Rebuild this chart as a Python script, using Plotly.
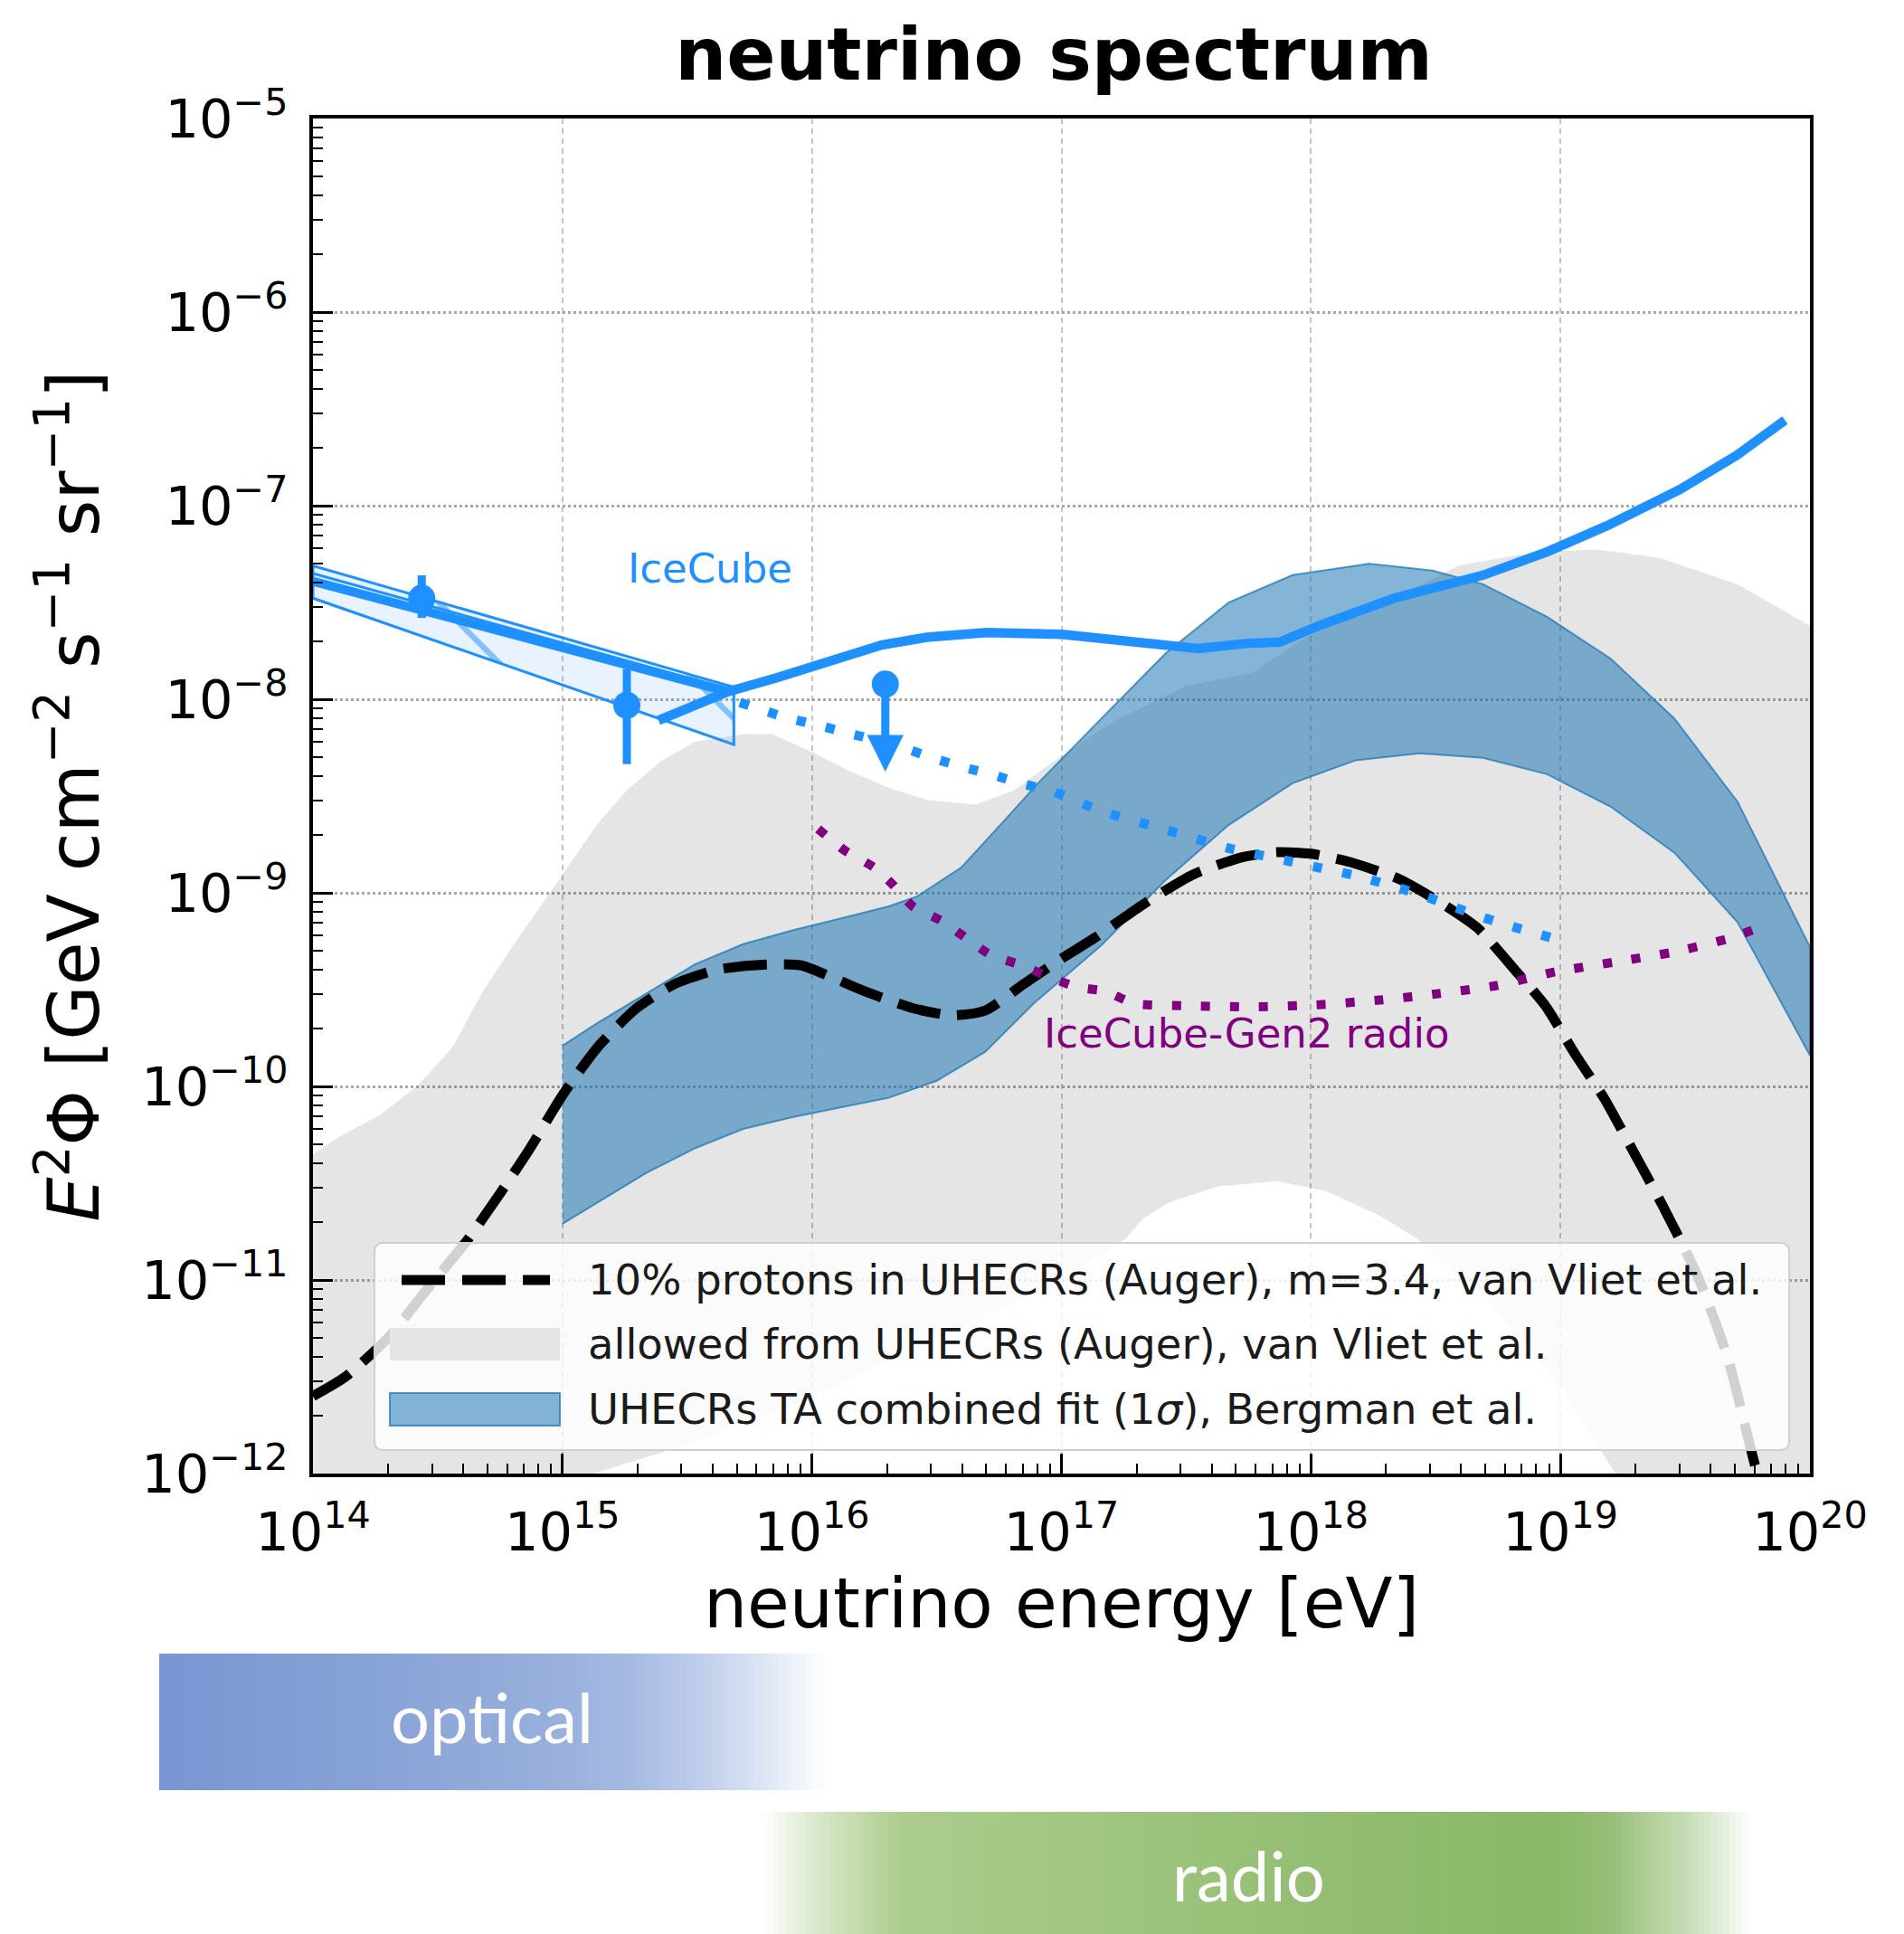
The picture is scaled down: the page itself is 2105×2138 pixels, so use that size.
import numpy as np
import plotly.graph_objects as go

# ---------------------------------------------------------------------------
# Values.
# Energies are log10(E / eV); fluxes are log10(E^2 Phi / GeV cm^-2 s^-1 sr^-1)
# ---------------------------------------------------------------------------

# 10% protons in UHECRs (Auger), m=3.4, van Vliet et al.  (black dashed)
proton_logE = [14.0, 14.13, 14.30, 14.45, 14.617, 14.753, 14.87, 15.0, 15.142, 15.297,
               15.452, 15.627, 15.82, 15.957, 16.074, 16.21, 16.404, 16.56, 16.695,
               16.85, 17.0, 17.137, 17.333, 17.53, 17.725, 17.863, 18.0, 18.157,
               18.353, 18.51, 18.667, 18.824, 18.94, 19.06, 19.176, 19.294, 19.41,
               19.55, 19.67, 19.784, 19.84]
proton_logF = [-11.60, -11.50, -11.30, -11.06, -10.797, -10.547, -10.32, -10.046, -9.796,
               -9.596, -9.47, -9.395, -9.37, -9.375, -9.433, -9.508, -9.596, -9.633,
               -9.608, -9.47, -9.34, -9.23, -9.055, -8.904, -8.816, -8.79, -8.798,
               -8.841, -8.929, -9.043, -9.181, -9.408, -9.584, -9.836, -10.063,
               -10.34, -10.617, -10.98, -11.40, -11.977, -12.2]

# allowed from UHECRs (Auger), van Vliet et al.  (grey region)
auger_upper_logE = [14.0, 14.093, 14.27, 14.42, 14.56, 14.676, 14.79, 14.91, 15.006, 15.14,
                    15.258, 15.394, 15.53, 15.724, 15.84, 15.996, 16.15, 16.307, 16.46,
                    16.656, 16.81, 16.97, 17.2, 17.5, 17.77, 17.93, 18.18, 18.44, 18.59,
                    18.9, 19.15, 19.4, 19.71, 20.0]
auger_upper_logF = [-10.35, -10.27, -10.146, -9.996, -9.796, -9.52, -9.295, -9.07, -8.895,
                    -8.645, -8.47, -8.32, -8.22, -8.18, -8.18, -8.27, -8.37, -8.457, -8.52,
                    -8.544, -8.47, -8.32, -8.12, -7.93, -7.86, -7.72, -7.53, -7.41, -7.31,
                    -7.24, -7.227, -7.27, -7.406, -7.62]
# lower edge, from high to low energy (the white dome underneath)
auger_lower_logE = [20.0, 19.6, 19.22, 19.0, 18.7, 18.55, 18.43, 18.275, 18.06, 17.863,
                    17.627, 17.43, 17.33, 17.255, 17.0, 16.5, 16.0, 15.5, 15.0, 14.0]
auger_lower_logF = [-13.0, -12.5, -12.0, -11.55, -11.1, -10.93, -10.79, -10.667, -10.54,
                    -10.49, -10.516, -10.6, -10.68, -10.79, -11.0, -11.3, -11.6, -11.85,
                    -12.05, -13.0]

# UHECRs TA combined fit (1 sigma), Bergman et al.  (blue band)
ta_upper_logE = [15.0, 15.142, 15.336, 15.53, 15.724, 15.918, 16.113, 16.307, 16.42, 16.598,
                 16.79, 16.906, 17.16, 17.416, 17.67, 17.926, 18.232, 18.487, 18.69,
                 18.946, 19.2, 19.457, 19.71, 20.0]
ta_upper_logF = [-9.79, -9.671, -9.52, -9.37, -9.265, -9.195, -9.133, -9.07, -9.02, -8.87,
                 -8.6, -8.434, -8.1, -7.765, -7.5, -7.359, -7.3, -7.335, -7.406, -7.574,
                 -7.789, -8.1, -8.53, -9.28]
ta_lower_logE = [15.0, 15.142, 15.336, 15.53, 15.724, 15.918, 16.113, 16.307, 16.5, 16.695,
                 16.89, 17.16, 17.416, 17.67, 17.926, 18.18, 18.436, 18.69, 18.946, 19.2,
                 19.457, 19.71, 20.0]
ta_lower_logF = [-10.71, -10.597, -10.447, -10.32, -10.22, -10.16, -10.109, -10.059, -9.971,
                 -9.821, -9.57, -9.271, -8.936, -8.65, -8.434, -8.315, -8.279, -8.303,
                 -8.387, -8.554, -8.793, -9.152, -9.84]

# IceCube sensitivity (solid blue)
icecube_logE = [15.385, 15.663, 15.856, 16.037, 16.279, 16.46, 16.70, 17.003, 17.184, 17.426,
                17.547, 17.74, 17.875, 18.028, 18.334, 18.69, 18.946, 19.2, 19.48, 19.71,
                19.9]
icecube_logF = [-8.109, -7.961, -7.89, -7.813, -7.72, -7.68, -7.655, -7.665, -7.688, -7.727,
                -7.738, -7.712, -7.705, -7.622, -7.478, -7.359, -7.239, -7.096, -6.916,
                -6.737, -6.558]

# IceCube astrophysical flux extrapolation (blue dotted)
icecube_ext_logE = [15.711, 15.892, 16.018, 16.133, 16.363, 16.484, 16.605, 16.72, 16.84,
                    16.962, 17.16, 17.416, 17.67, 17.926, 18.18, 18.436, 18.69, 18.97]
icecube_ext_logF = [-8.016, -8.093, -8.132, -8.171, -8.249, -8.304, -8.35, -8.389, -8.436,
                    -8.475, -8.578, -8.673, -8.769, -8.841, -8.912, -9.008, -9.128, -9.235]

# IceCube-Gen2 radio (purple dotted)
gen2_logE = [16.025, 16.13, 16.25, 16.326, 16.404, 16.52, 16.617, 16.715, 16.83, 16.948,
             17.06, 17.176, 17.294, 17.53, 17.765, 18.02, 18.275, 18.51, 18.745, 18.98,
             19.216, 19.45, 19.686, 19.843]
gen2_logF = [-8.67, -8.78, -8.87, -8.96, -9.07, -9.145, -9.233, -9.32, -9.37, -9.433, -9.486,
             -9.509, -9.572, -9.584, -9.589, -9.579, -9.554, -9.521, -9.479, -9.408, -9.358,
             -9.307, -9.232, -9.156]

# IceCube astrophysical power-law band (hatched) and best fit
ic_band_logE = [14.0, 15.687]
ic_band_upper_logF = [-7.31, -7.938]
ic_band_lower_logF = [-7.478, -8.234]
ic_inner_logF = [-7.35, -7.955]
ic_fit_logE = [14.0, 15.663]
ic_fit_logF = [-7.39, -7.961]

# IceCube data points with error bars
ic_pts_logE = [14.436, 15.258]
ic_pts_logF = [-7.478, -8.031]
ic_pts_hi_logF = [-7.36, -7.844]
ic_pts_lo_logF = [-7.58, -8.335]

# IceCube upper limit (point and arrow end)
ic_ul_logE = [16.294]
ic_ul_logF = [-7.922]
ic_ul_end_logF = [-8.374]

# axis ticks
x_tick_exp = [14, 15, 16, 17, 18, 19, 20]
y_tick_exp = [-12, -11, -10, -9, -8, -7, -6, -5]

# ---------------------------------------------------------------------------
W, H = 2105, 2138
L, R, T, B = 338, 1993, 123, 1621      # plot area in pixels


def pxx(v):
    return (v - L) / (R - L)


def pxy(v):
    return (B - v) / (B - T)


def pw(v):
    return (10.0 ** np.asarray(v, dtype=float)).tolist()


BLUE = "#1E90FF"
PURPLE = "#800080"
TA_FILL = "rgba(31,119,180,0.55)"
TA_EDGE = "rgba(31,119,180,0.75)"
GREY_FILL = "rgba(0,0,0,0.102)"
FONT = "DejaVu Sans"

fig = go.Figure()

# grey allowed region
fig.add_trace(go.Scatter(
    x=pw(auger_upper_logE + auger_lower_logE), y=pw(auger_upper_logF + auger_lower_logF),
    mode="lines", fill="toself", fillcolor=GREY_FILL, line=dict(width=0),
    hoverinfo="skip", showlegend=False, name="allowed from UHECRs (Auger), van Vliet et al."))

# TA band
fig.add_trace(go.Scatter(
    x=pw(ta_upper_logE + ta_lower_logE[::-1]), y=pw(ta_upper_logF + ta_lower_logF[::-1]),
    mode="lines", fill="toself", fillcolor=TA_FILL, line=dict(width=2, color=TA_EDGE),
    hoverinfo="skip", showlegend=False, name="UHECRs TA combined fit (1σ), Bergman et al."))

# IceCube hatched band
bx = [ic_band_logE[0], ic_band_logE[1], ic_band_logE[1], ic_band_logE[0], ic_band_logE[0]]
by = [ic_band_upper_logF[0], ic_band_upper_logF[1], ic_band_lower_logF[1],
      ic_band_lower_logF[0], ic_band_upper_logF[0]]
fig.add_trace(go.Scatter(
    x=pw(bx), y=pw(by), mode="lines", fill="toself",
    fillcolor="rgba(30,144,255,0.10)",
    fillpattern=dict(shape="\\", size=140, solidity=0.045, fgcolor=BLUE,
                     bgcolor="rgba(30,144,255,0.10)", fillmode="overlay"),
    line=dict(width=3, color=BLUE), hoverinfo="skip", showlegend=False))
fig.add_trace(go.Scatter(
    x=pw(ic_band_logE), y=pw(ic_inner_logF), mode="lines",
    line=dict(width=3, color=BLUE), hoverinfo="skip", showlegend=False))

# black dashed proton line
fig.add_trace(go.Scatter(
    x=pw(proton_logE), y=pw(proton_logF), mode="lines",
    line=dict(color="black", width=11, dash="48px,19px", shape="spline", smoothing=0.6),
    showlegend=False, name="10% protons in UHECRs (Auger), m=3.4, van Vliet et al."))

# IceCube extrapolation (blue dotted)
fig.add_trace(go.Scatter(
    x=pw(icecube_ext_logE), y=pw(icecube_ext_logF), mode="lines",
    line=dict(color=BLUE, width=10.5, dash="10px,23px", shape="spline", smoothing=0.6),
    showlegend=False))

# Gen2 radio (purple dotted)
fig.add_trace(go.Scatter(
    x=pw(gen2_logE), y=pw(gen2_logF), mode="lines",
    line=dict(color=PURPLE, width=10, dash="10px,22px", shape="spline", smoothing=0.6),
    showlegend=False))

# IceCube best fit
fig.add_trace(go.Scatter(
    x=pw(ic_fit_logE), y=pw(ic_fit_logF), mode="lines",
    line=dict(color=BLUE, width=10), showlegend=False))

# IceCube sensitivity
fig.add_trace(go.Scatter(
    x=pw(icecube_logE), y=pw(icecube_logF), mode="lines",
    line=dict(color=BLUE, width=10.5), showlegend=False))

# IceCube points with error bars
c = np.array(pw(ic_pts_logF))
hi = np.array(pw(ic_pts_hi_logF))
lo = np.array(pw(ic_pts_lo_logF))
fig.add_trace(go.Scatter(
    x=pw(ic_pts_logE), y=c.tolist(), mode="markers",
    marker=dict(color=BLUE, size=30, symbol="circle"),
    error_y=dict(type="data", symmetric=False, array=(hi - c).tolist(),
                 arrayminus=(c - lo).tolist(), color=BLUE, thickness=9, width=0),
    showlegend=False))

# IceCube upper limit
fig.add_trace(go.Scatter(
    x=pw(ic_ul_logE), y=pw(ic_ul_logF), mode="markers",
    marker=dict(color=BLUE, size=30, symbol="circle"), showlegend=False))

annotations = []
annotations.append(dict(
    x=ic_ul_logE[0], y=ic_ul_end_logF[0], ax=ic_ul_logE[0], ay=ic_ul_logF[0],
    xref="x", yref="y", axref="x", ayref="y", text=" ", showarrow=True,
    arrowhead=2, arrowsize=0.9, arrowwidth=9, arrowcolor=BLUE))

# in-plot labels
annotations.append(dict(x=15.592, y=-7.323, xref="x", yref="y", text="IceCube",
                        showarrow=False, font=dict(family=FONT, size=45, color=BLUE)))
annotations.append(dict(x=17.742, y=-9.725, xref="x", yref="y", text="IceCube-Gen2 radio",
                        showarrow=False, font=dict(family=FONT, size=45, color=PURPLE)))

# ---------------------------------------------------------------------------
# legend (drawn box)
shapes = []
lx0, lx1, ly0, ly1, rad = 406, 1970, 1366, 1595, 10
rx, ry = rad / (R - L), rad / (B - T)
X0, X1, Y0, Y1 = pxx(lx0), pxx(lx1), pxy(ly0), pxy(ly1)
path = (f"M{X0 + rx},{Y0} L{X1 - rx},{Y0} Q{X1},{Y0} {X1},{Y0 - ry} "
        f"L{X1},{Y1 + ry} Q{X1},{Y1} {X1 - rx},{Y1} L{X0 + rx},{Y1} "
        f"Q{X0},{Y1} {X0},{Y1 + ry} L{X0},{Y0 - ry} Q{X0},{Y0} {X0 + rx},{Y0} Z")
shapes.append(dict(type="path", path=path, xref="paper", yref="paper",
                   fillcolor="rgba(255,255,255,0.82)", line=dict(color="#d0d0d0", width=2),
                   layer="above"))
rows = [1407, 1478, 1550]
shapes.append(dict(type="line", xref="paper", yref="paper", x0=pxx(436), x1=pxx(600),
                   y0=pxy(rows[0]), y1=pxy(rows[0]),
                   line=dict(color="black", width=11, dash="48px,19px"), layer="above"))
shapes.append(dict(type="rect", xref="paper", yref="paper", x0=pxx(423), x1=pxx(611),
                   y0=pxy(rows[1] - 18), y1=pxy(rows[1] + 18), fillcolor="#e5e5e5",
                   line=dict(width=0), layer="above"))
shapes.append(dict(type="rect", xref="paper", yref="paper", x0=pxx(423), x1=pxx(611),
                   y0=pxy(rows[2] - 18), y1=pxy(rows[2] + 18), fillcolor=TA_FILL,
                   line=dict(width=2, color=TA_EDGE), layer="above"))
legend_texts = ["10% protons in UHECRs (Auger), m=3.4, van Vliet et al.",
                "allowed from UHECRs (Auger), van Vliet et al.",
                "UHECRs TA combined fit (1<i>σ</i>), Bergman et al."]
for ytxt, txt in zip(rows, legend_texts):
    annotations.append(dict(x=pxx(640), y=pxy(ytxt), xref="paper", yref="paper",
                            xanchor="left", yanchor="middle", text=txt, showarrow=False,
                            font=dict(family=FONT, size=46.5, color="#1a1a1a")))

# ---------------------------------------------------------------------------
# optical / radio gradient bars below the plot


def interp(stops, x):
    for (p0, c0), (p1, c1) in zip(stops[:-1], stops[1:]):
        if p0 <= x <= p1:
            t = (x - p0) / (p1 - p0)
            return tuple(int(round(a + (b - a) * t)) for a, b in zip(c0, c1))
    return stops[-1][1]


def gradient_bar(stops, x0, x1, y0, y1, step=7):
    xs = list(range(x0, x1, step))
    for xa in xs:
        col = interp(stops, xa + step / 2)
        shapes.append(dict(type="rect", xref="paper", yref="paper",
                           x0=pxx(xa), x1=pxx(min(xa + step + 1, x1)),
                           y0=pxy(y1), y1=pxy(y0),
                           fillcolor=f"rgb{col}", line=dict(width=0), layer="below"))


optical_stops = [(168, (120, 150, 210)), (400, (135, 162, 214)), (600, (152, 175, 220)),
                 (690, (165, 185, 226)), (780, (196, 210, 236)), (860, (232, 238, 249)),
                 (907, (255, 255, 255))]
radio_stops = [(833, (255, 255, 255)), (900, (215, 230, 200)), (990, (172, 204, 140)),
               (1200, (160, 198, 128)), (1450, (148, 190, 115)), (1700, (138, 184, 103)),
               (1770, (150, 190, 118)), (1860, (200, 222, 185)), (1930, (255, 255, 255))]
gradient_bar(optical_stops, 168, 907, 1820, 1971)
gradient_bar(radio_stops, 833, 1930, 1995, 2145)

annotations.append(dict(x=pxx(536), y=pxy(1889), xref="paper", yref="paper", text="optical",
                        xanchor="center", yanchor="middle",
                        showarrow=False, font=dict(family="Lato", size=76, color="white")))
annotations.append(dict(x=pxx(1372), y=pxy(2064), xref="paper", yref="paper", text="radio",
                        xanchor="center", yanchor="middle",
                        showarrow=False, font=dict(family="Lato", size=76, color="white")))

# ---------------------------------------------------------------------------
x_tickvals = [10.0 ** e for e in x_tick_exp]
x_ticktext = [f"10<sup>{e}</sup>" for e in x_tick_exp]
y_tickvals = [10.0 ** e for e in y_tick_exp]
y_ticktext = [f"10<sup>−{-e}</sup>" for e in y_tick_exp]
x_minor = [k * 10.0 ** e for e in x_tick_exp[:-1] for k in range(2, 10)]
y_minor = [k * 10.0 ** e for e in y_tick_exp[:-1] for k in range(2, 10)]

axis_common = dict(
    type="log", showline=True, linewidth=3.5, linecolor="black", mirror=True,
    ticks="inside", ticklen=22, tickwidth=3, tickcolor="black",
    tickfont=dict(family=FONT, size=59, color="black"),
    showgrid=True, zeroline=False, tickmode="array",
)

fig.update_layout(
    width=W, height=H,
    margin=dict(l=L, r=W - R, t=T, b=H - B),
    paper_bgcolor="white", plot_bgcolor="white",
    font=dict(family=FONT, color="black"),
    showlegend=False,
    title=dict(text="neutrino spectrum", x=1157 / W, xanchor="center",
               y=1 - 24 / H, yanchor="top", xref="container", yref="container",
               font=dict(family="DejaVu Sans", size=80, color="black", weight="bold")),
    xaxis=dict(**axis_common, range=[14, 20], tickvals=x_tickvals, ticktext=x_ticktext,
               gridcolor="#c4c4c4", griddash="6px,5px", gridwidth=1.5,
               ticklabelstandoff=10,
               minor=dict(tickvals=x_minor, ticks="inside", ticklen=11, tickwidth=2,
                          tickcolor="black", showgrid=False),
               title=dict(text="neutrino energy [eV]", standoff=20,
                          font=dict(family=FONT, size=76, color="black"))),
    yaxis=dict(**axis_common, range=[-12, -5], tickvals=y_tickvals, ticktext=y_ticktext,
               gridcolor="#a8a8a8", griddash="dot", gridwidth=2.5,
               ticklabelstandoff=12,
               minor=dict(tickvals=y_minor, ticks="inside", ticklen=11, tickwidth=2,
                          tickcolor="black", showgrid=False),
               title=dict(text="<i>E</i><sup>2</sup>Φ [GeV cm<sup>−2</sup> s<sup>−1</sup> "
                               "sr<sup>−1</sup>]", standoff=22,
                          font=dict(family=FONT, size=78, color="black"))),
    shapes=shapes,
    annotations=annotations,
)

fig.write_html("out.html")
